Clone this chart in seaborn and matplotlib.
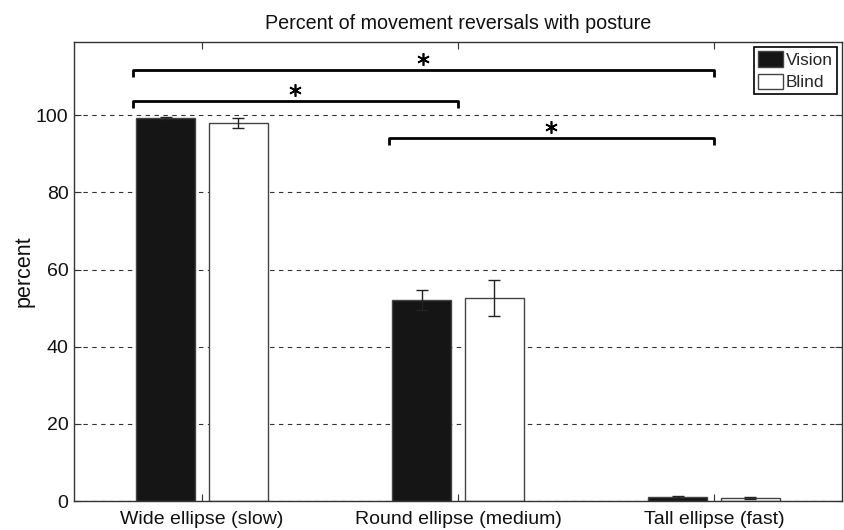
import matplotlib
matplotlib.use("Agg")
import matplotlib.pyplot as plt
import seaborn as sns
import pandas as pd
import numpy as np

# Percent of movement reversals per posture condition
conditions = ["Wide ellipse (slow)", "Round ellipse (medium)", "Tall ellipse (fast)"]
vision_mean = [99.3, 52.2, 1.0]
vision_err = [0.3, 2.6, 0.3]
blind_mean = [98.0, 52.6, 0.8]
blind_err = [1.3, 4.7, 0.3]
groups = ["Vision", "Blind"]

# significance brackets: (start condition, end condition, bar height, star height)
brackets = [(0, 2, 111.8, 114.6), (0, 1, 103.8, 106.6), (1, 2, 94.0, 96.9)]

df = pd.DataFrame({
    "condition": conditions * 2,
    "group": [groups[0]] * 3 + [groups[1]] * 3,
    "percent": vision_mean + blind_mean,
})

sns.set_theme(style="white")
plt.rcParams["font.family"] = ["Liberation Sans", "DejaVu Sans"]

fig = plt.figure(figsize=(8.44, 5.30), dpi=100)
ax = fig.add_axes([74 / 844, 29 / 530, 768 / 844, 459 / 530])

width, gap = 0.57, 0.19
sns.barplot(data=df, x="condition", y="percent", hue="group", order=conditions,
            hue_order=groups, palette={"Vision": "#151515", "Blind": "#ffffff"},
            width=width, gap=gap, errorbar=None, edgecolor="#444444",
            linewidth=1.0, ax=ax, zorder=2)

offset = width / 4
xpos = np.arange(len(conditions))
for shift, means, errs in [(-offset, vision_mean, vision_err), (offset, blind_mean, blind_err)]:
    ax.errorbar(xpos + shift, means, yerr=errs, fmt="none", ecolor="#222222",
                elinewidth=1.0, capsize=4, capthick=1.0, zorder=3)

# significance brackets with six-spoke asterisks
for a, b, yb, ys in brackets:
    x0 = a - 0.27
    x1 = b
    ax.plot([x0, x0, x1, x1], [yb - 1.8, yb, yb, yb - 1.8], color="black",
            lw=2.0, solid_capstyle="butt", zorder=4)
    ax.plot([(x0 + x1) / 2], [ys], linestyle="none", marker=(6, 2, 0),
            markersize=9, markeredgewidth=1.2, color="black", zorder=4)

ax.set_xlim(-0.5, 2.5)
ax.set_ylim(0, 119)
ax.set_yticks([0, 20, 40, 60, 80, 100])
ax.yaxis.grid(True, linestyle=(0, (4, 4)), color="#333333", lw=0.8)
ax.set_axisbelow(True)
ax.tick_params(axis="both", direction="in", length=5, width=0.8, color="#333333",
               labelsize=14, labelcolor="#111111", top=True, right=True,
               bottom=True, left=True)
ax.tick_params(axis="x", pad=7)
ax.tick_params(axis="y", pad=4)
for s in ax.spines.values():
    s.set_color("#333333")
    s.set_linewidth(1.0)

ax.set_xlabel("")
ax.set_ylabel("percent", fontsize=15.5, labelpad=1, color="#111111")
ax.set_title("Percent of movement reversals with posture", fontsize=14.2, pad=9.5,
             color="#111111")

leg = ax.legend(loc="upper right", fontsize=12.4, frameon=True, fancybox=False,
                edgecolor="black", framealpha=1, handlelength=1.45, handleheight=1.0,
                handletextpad=0.17, borderpad=0.23, labelspacing=0.35,
                borderaxespad=0.3)
leg.get_frame().set_linewidth(1.2)
leg.set_title(None)

fig.savefig("out.png", dpi=100)
